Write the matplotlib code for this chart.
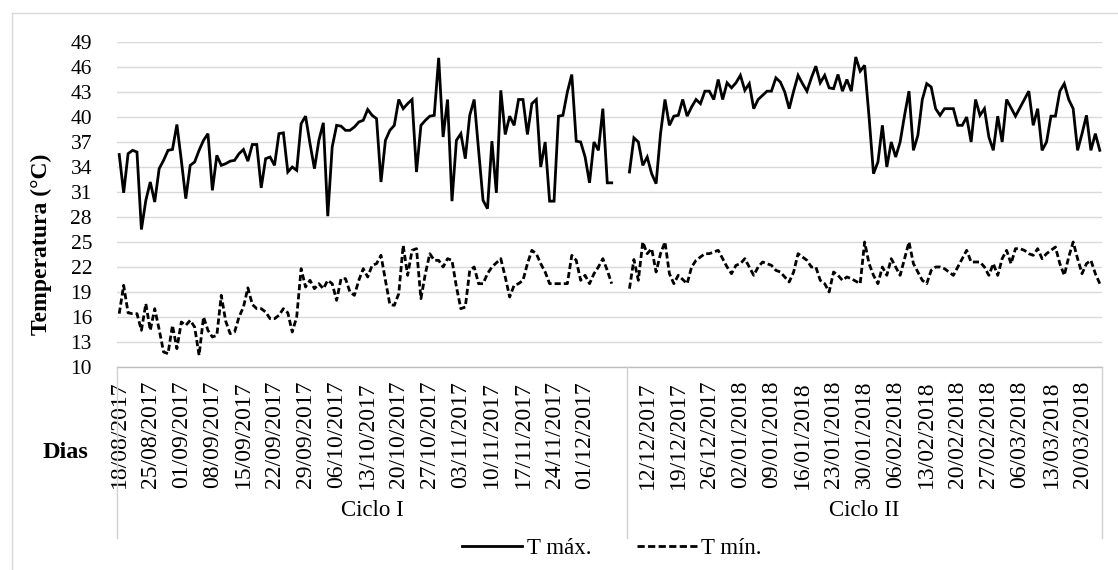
import matplotlib
matplotlib.use("Agg")
import matplotlib.pyplot as plt
from matplotlib.lines import Line2D
import numpy as np

plt.rcParams['font.family'] = ['Liberation Serif', 'DejaVu Serif']

# Ciclo I: daily values from 18/08/2017
tmax_c1 = [35.5, 30.9, 35.6, 36, 35.8, 26.5, 30, 32.2, 29.8, 33.8,
           34.8, 36, 36.1, 39.1, 34.8, 30.2, 34.2, 34.6, 36, 37.2,
           38, 31.2, 35.4, 34.2, 34.4, 34.7, 34.8, 35.6, 36.1, 34.7,
           36.7, 36.7, 31.5, 35, 35.2, 34.2, 38, 38.1, 33.4, 34,
           33.6, 39.2, 40.1, 36.8, 33.8, 37.2, 39.3, 28.1, 36.4, 39,
           38.9, 38.4, 38.4, 38.8, 39.4, 39.6, 40.9, 40.2, 39.8, 32.2,
           37.2, 38.4, 39, 42.1, 41, 41.6, 42.1, 33.4, 39, 39.6,
           40.1, 40.2, 47.1, 37.6, 42.1, 29.9, 37.2, 38, 35, 40.2,
           42.1, 36, 30, 29, 37.1, 30.9, 43.2, 37.9, 40.1, 39,
           42.1, 42.1, 37.9, 41.6, 42.1, 34, 37, 29.9, 29.9, 40.1,
           40.2, 43, 45.1, 37.1, 37, 35.2, 32.1, 37, 36, 41,
           32.1, 32.1]
tmin_c1 = [16.4, 19.8, 16.5, 16.4, 16.4, 14.4, 17.6, 14.4, 17, 14.5,
           11.8, 11.6, 15, 12.2, 15.4, 15, 15.6, 14.8, 11.4, 16,
           14.4, 13.6, 13.8, 18.6, 15.5, 14, 14.2, 16, 17.2, 19.5,
           17.5, 17, 17, 16.6, 15.8, 15.8, 16.2, 17, 16.5, 14.2,
           16, 21.8, 19.6, 20.4, 19.4, 20, 19.4, 20.4, 20, 18,
           20.6, 20.6, 19, 18.6, 20.4, 21.8, 20.8, 22.2, 22.4, 23.4,
           20.4, 17.5, 17.4, 18.8, 24.6, 21, 24, 24.2, 18.2, 21.2,
           23.6, 22.8, 22.8, 22, 23, 22.8, 19.6, 17, 17.2, 21.6,
           22, 20, 20, 21.2, 22, 22.5, 23, 20.8, 18.4, 19.8,
           20, 20.4, 22.4, 24, 23.6, 22.4, 21.4, 20, 20, 20,
           20, 20, 23.4, 22.8, 20.4, 21, 20, 21.2, 22, 23,
           21.6, 20]

# Ciclo II: daily values from 08/12/2017
tmax_c2 = [33.4, 37.5, 37, 34.2, 35.2, 33.2, 32, 38, 42.1, 39,
           40.1, 40.2, 42.1, 40.1, 41.2, 42.1, 41.6, 43.1, 43.1, 42.1,
           44.5, 42.1, 44.1, 43.5, 44.1, 45, 43.2, 44, 41, 42.1,
           42.6, 43.1, 43.1, 44.7, 44.2, 43, 41, 43.1, 45, 44,
           43.1, 44.7, 46.1, 44.1, 45, 43.5, 43.4, 45.1, 43.1, 44.5,
           43.1, 47.2, 45.5, 46.2, 40, 33.2, 34.6, 39, 34, 37,
           35.2, 37, 40.2, 43.1, 36, 37.8, 42.1, 44, 43.6, 41,
           40.2, 41, 41, 41, 39, 39, 40, 37, 42.1, 40.2,
           41, 37.6, 36, 40.1, 37, 42.1, 41.1, 40.1, 41.1, 42.1,
           43.1, 39, 41, 36, 37, 40.1, 40.1, 43.1, 44, 42.1,
           41, 36, 38, 40.2, 36, 38, 36]
tmin_c2 = [19.4, 22.9, 20.4, 25, 23.6, 24.2, 21.4, 23.6, 25, 21.2,
           20, 21, 20.5, 20, 22, 22.8, 23.2, 23.6, 23.6, 23.8,
           24, 23, 22, 21.2, 22.2, 22.4, 23, 22, 21, 22,
           22.6, 22.4, 22.2, 21.6, 21.4, 20.8, 20.2, 21.4, 23.6, 23.2,
           22.8, 22, 22, 20.4, 20, 19, 21.4, 21, 20.4, 20.8,
           20.6, 20.3, 20, 25, 22.4, 21, 20, 22, 21, 23,
           22, 21, 23, 25, 22.4, 21.4, 20.4, 20, 21.6, 22,
           22, 21.8, 21.4, 21, 22, 23, 24, 22.6, 22.6, 22.6,
           22, 21, 22.4, 21, 23, 24, 22.4, 24.2, 24.2, 24,
           23.6, 23.4, 24.2, 23, 23.6, 24, 24.4, 22.4, 21, 23.2,
           25, 23, 21.2, 22.4, 22.8, 21.2, 20]

labels_c1 = ["18/08/2017", "25/08/2017", "01/09/2017", "08/09/2017", "15/09/2017",
             "22/09/2017", "29/09/2017", "06/10/2017", "13/10/2017", "20/10/2017",
             "27/10/2017", "03/11/2017", "10/11/2017", "17/11/2017", "24/11/2017",
             "01/12/2017"]
labels_c2 = ["12/12/2017", "19/12/2017", "26/12/2017", "02/01/2018", "09/01/2018",
             "16/01/2018", "23/01/2018", "30/01/2018", "06/02/2018", "13/02/2018",
             "20/02/2018", "27/02/2018", "06/03/2018", "13/03/2018", "20/03/2018"]
cycles = ["Ciclo I", "Ciclo II"]

# category layout
n_c1 = 115            # categories in Ciclo I group
n_total = 222
c2_first_label = 4    # 12/12 is 4 days after 08/12
step = 7

x1 = np.arange(len(tmax_c1))
x2 = n_c1 + np.arange(len(tmax_c2))

W, H = 1118, 570
fig = plt.figure(figsize=(W / 100, H / 100), dpi=100)
ax = fig.add_axes([117 / W, 1 - 367 / H, (1102 - 117) / W, (367 - 42) / H])

grid_c = '#d9d9d9'
lw = 2.0
dash = (0, (2.2, 1.1))
ax.plot(x1, tmax_c1, color='black', lw=lw, solid_joinstyle='miter')
ax.plot(x2, tmax_c2, color='black', lw=lw, solid_joinstyle='miter')
ax.plot(x1, tmin_c1, color='black', lw=lw, linestyle=dash)
ax.plot(x2, tmin_c2, color='black', lw=lw, linestyle=dash)

ax.set_xlim(-0.5, n_total - 0.5)
ax.set_ylim(10, 49)
ax.set_yticks(np.arange(10, 50, 3))
ax.yaxis.grid(True, color=grid_c, lw=1)
ax.set_axisbelow(True)
for s in ax.spines.values():
    s.set_visible(False)
ax.tick_params(axis='y', length=0, pad=18, labelsize=15.5)

ticks = list(np.arange(len(labels_c1)) * step) + \
    list(n_c1 + c2_first_label + np.arange(len(labels_c2)) * step)
ax.set_xticks(ticks)
ax.set_xticklabels(labels_c1 + labels_c2, rotation=90, fontsize=17)
ax.tick_params(axis='x', length=0, pad=10)

# multi-level category box
tr = ax.get_xaxis_transform()
ax.plot([-0.5, n_total - 0.5], [0, 0], color='#bfbfbf', lw=1, transform=tr, clip_on=False)
for xb in [-0.5, n_c1 - 0.5, n_total - 0.5]:
    ax.plot([xb, xb], [0, -0.526], color='#d0d0d0', lw=1, transform=tr, clip_on=False)
ax.text((n_c1 - 1) / 2, -0.44, cycles[0], transform=tr, ha='center', va='center', fontsize=16.5)
ax.text((n_c1 + n_total - 1) / 2, -0.44, cycles[1], transform=tr, ha='center', va='center', fontsize=16.5)

fig.text(41 / W, 1 - 244 / H, "Temperatura (°C)", rotation=90, ha='center', va='center',
         fontsize=17, fontweight='bold')
fig.text(65 / W, 1 - 452 / H, "Dias", ha='center', va='center', fontsize=17.5, fontweight='bold')

# chart border
fig.add_artist(Line2D([12 / W, 12 / W], [0, 1 - 13 / H], color=grid_c, lw=1))
fig.add_artist(Line2D([12 / W, 1], [1 - 13 / H, 1 - 13 / H], color=grid_c, lw=1))

handles = [Line2D([], [], color='black', lw=lw),
           Line2D([], [], color='black', lw=lw, linestyle=(0, (2.6, 1.2)))]
fig.legend(handles, ["T máx.", "T mín."], loc='center', bbox_to_anchor=(612 / W, 1 - 548 / H),
           ncol=2, frameon=False, fontsize=16.5, handlelength=2.6, handletextpad=0.2,
           columnspacing=2.0, borderaxespad=0, borderpad=0)

fig.savefig("out.png", dpi=100)
